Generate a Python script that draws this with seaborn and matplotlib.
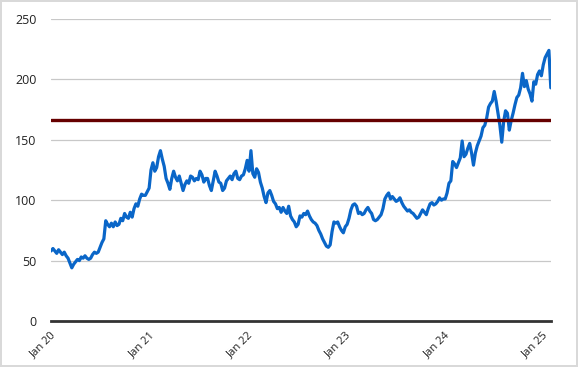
import pandas as pd
import numpy as np
import matplotlib
matplotlib.use("Agg")
import matplotlib.pyplot as plt
import matplotlib.dates as mdates
import seaborn as sns

# weekly closing values (Fridays)
vals_2020 = [58, 60, 58, 56, 59, 57, 55, 57, 54, 52, 48, 44, 47, 49, 51, 50, 53, 52, 54, 52,
             51, 52, 55, 57, 56, 57, 61, 65, 68, 83, 80, 78, 81, 78, 82, 79, 80, 85, 83, 89,
             86, 85, 90, 86, 93, 97, 95, 101, 105, 104, 104, 107]
vals_2021 = [110, 125, 131, 124, 127, 136, 141, 134, 128, 118, 114, 109, 118, 124, 119, 116, 120, 114,
             108, 113, 116, 114, 120, 119, 116, 118, 117, 124, 121, 115, 118, 118, 112, 108, 116, 124,
             120, 115, 114, 108, 110, 116, 118, 120, 117, 122, 124, 118, 117, 120, 121, 126, 133]
vals_2022 = [124, 141, 122, 119, 126, 123, 115, 110, 103, 98, 106, 108, 104, 99, 97, 93, 94, 90,
             94, 91, 89, 95, 87, 84, 82, 78, 80, 87, 86, 89, 88, 91, 87, 84, 82, 81, 79, 75,
             72, 68, 65, 62, 61, 63, 74, 82, 81, 82, 78, 75, 73, 78]
vals_2023 = [80, 85, 92, 96, 97, 95, 89, 90, 88, 89, 92, 94, 91, 89, 84, 83, 84, 86, 88, 93,
             101, 104, 106, 101, 103, 101, 99, 100, 102, 98, 95, 93, 91, 92, 90, 89, 87, 85, 86, 89,
             92, 90, 88, 93, 97, 98, 96, 97, 99, 102, 100, 101]
vals_2024 = [101, 106, 114, 116, 132, 130, 127, 131, 135, 149, 136, 138, 143, 147, 139, 129, 139, 145,
             149, 153, 160, 162, 168, 177, 180, 182, 190, 182, 172, 162, 148, 165, 174, 172, 158, 166,
             172, 179, 185, 187, 193, 205, 194, 199, 192, 188, 182, 198, 196, 204, 207, 203]
vals_2025 = [212, 218, 221, 224, 193]

threshold = 166.5
y_ticks = [0, 50, 100, 150, 200, 250]

values = vals_2020 + vals_2021 + vals_2022 + vals_2023 + vals_2024 + vals_2025
dates = pd.date_range("2020-01-03", periods=len(values), freq="W-FRI")
df = pd.DataFrame({"Date": dates, "Price": values})

sns.set_style("white")
plt.rcParams["font.family"] = ["Open Sans", "DejaVu Sans"]

fig = plt.figure(figsize=(5.78, 3.67), dpi=100)
fig.patch.set_edgecolor("#d9d9d9")
fig.patch.set_linewidth(1.5)
ax = fig.add_axes([0.0874, 0.1253, 0.866, 0.823])

for t in y_ticks[1:]:
    ax.axhline(t, color="#c8c8c8", lw=0.9, zorder=0)

sns.lineplot(x="Date", y="Price", data=df, color="#0a66c8", lw=2.3, ax=ax, zorder=3)
ax.axhline(threshold, color="#660000", lw=2.4, zorder=4)

ax.set_ylim(0, 250)
ax.set_xlim(pd.Timestamp("2020-01-01"), pd.Timestamp("2025-02-01"))
ax.set_yticks(y_ticks)
ax.xaxis.set_major_locator(mdates.YearLocator())
ax.xaxis.set_major_formatter(mdates.DateFormatter("Jan %y"))
ax.set_xlabel("")
ax.set_ylabel("")

for s in ["top", "right", "left"]:
    ax.spines[s].set_visible(False)
ax.spines["bottom"].set_color("#333333")
ax.spines["bottom"].set_linewidth(2)
ax.spines["bottom"].set_zorder(5)

ax.tick_params(axis="y", length=0, pad=10, labelsize=9, labelcolor="#222222")
ax.tick_params(axis="x", length=4, width=0.8, color="#bfbfbf", direction="out",
               labelsize=8, labelcolor="#222222", pad=2)
for lbl in ax.get_xticklabels():
    lbl.set_rotation(45)
    lbl.set_ha("right")
    lbl.set_rotation_mode("anchor")

fig.savefig("out.png", dpi=100)
